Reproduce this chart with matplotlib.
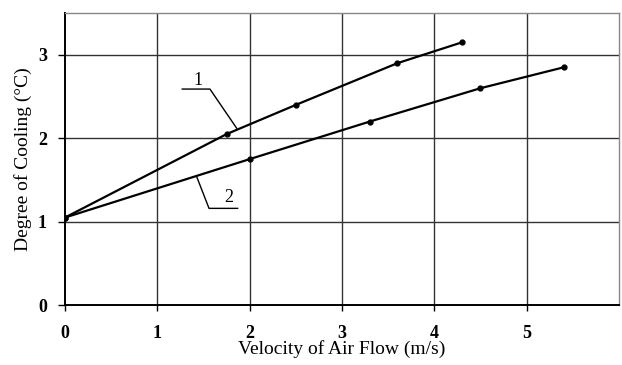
import matplotlib.pyplot as plt

# Datos
vel_1 = [0.0, 1.75, 2.5, 3.6, 4.3]
cool_1 = [1.05, 2.05, 2.4, 2.9, 3.15]

vel_2 = [0.0, 2.0, 3.3, 4.5, 5.4]
cool_2 = [1.05, 1.75, 2.2, 2.6, 2.85]

x_ticks = [0, 1, 2, 3, 4, 5]
y_ticks = [0, 1, 2, 3]

plt.rcParams['font.family'] = ['Liberation Serif', 'DejaVu Serif']

fig = plt.figure(figsize=(6.22, 3.65), dpi=100)
ax = fig.add_axes([0.1045, 0.164, 0.8905, 0.80])

# Rejilla
for xv in [1, 2, 3, 4, 5]:
    ax.axvline(xv, color="#333333", lw=1.0, zorder=1)
for yv in [1, 2, 3]:
    ax.axhline(yv, color="#333333", lw=1.0, zorder=1)

ax.plot(vel_1, cool_1, color="black", lw=1.6, marker="o", ms=3.5, zorder=3)
ax.plot(vel_2, cool_2, color="black", lw=1.6, marker="o", ms=3.5, zorder=3)

# Etiquetas de curvas con lineas guia
ax.plot([1.27, 1.57, 1.86], [2.59, 2.59, 2.12], color="black", lw=1.0)
ax.text(1.44, 2.69, "1", fontsize=13, ha="center", va="center")
ax.plot([1.43, 1.56, 1.87], [1.53, 1.16, 1.16], color="black", lw=1.0)
ax.text(1.77, 1.29, "2", fontsize=13, ha="center", va="center")

ax.set_xlim(0, 6)
ax.set_ylim(0, 3.5)
ax.set_xticks(x_ticks)
ax.set_yticks(y_ticks)
ax.tick_params(axis="x", direction="out", length=4, width=1.0, pad=10, labelsize=13)
ax.tick_params(axis="y", direction="out", length=5, width=1.0, pad=8, labelsize=13)
for lbl in ax.get_xticklabels() + ax.get_yticklabels():
    lbl.set_fontweight("bold")

for side in ["top", "right"]:
    ax.spines[side].set_color("#888888")
    ax.spines[side].set_linewidth(1.0)
for side in ["left", "bottom"]:
    ax.spines[side].set_color("black")
    ax.spines[side].set_linewidth(1.4)

ax.set_xlabel("Velocity of Air Flow (m/s)", fontsize=14, labelpad=-1)
ax.set_ylabel("Degree of Cooling (°C)", fontsize=14, labelpad=4)

plt.savefig("out.png", dpi=100)
